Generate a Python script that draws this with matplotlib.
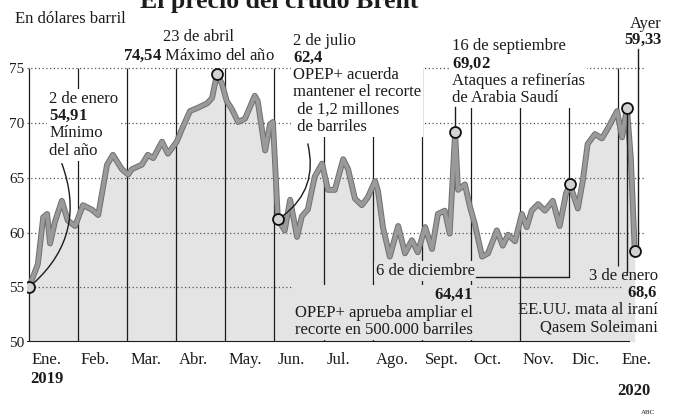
import numpy as np
import matplotlib.pyplot as plt
import matplotlib.patheffects as pe

plt.rcParams['font.family'] = ['Liberation Serif', 'DejaVu Serif']
plt.rcParams['mathtext.fontset'] = 'custom'
plt.rcParams['mathtext.rm'] = 'Liberation Serif'
plt.rcParams['mathtext.bf'] = 'Liberation Serif:bold'

# months since 1 Jan 2019 / Brent price ($ per barrel)
t = [0.00, 0.18, 0.29, 0.37, 0.43, 0.53, 0.67, 0.79, 0.94, 1.10, 1.28, 1.41,
     1.59, 1.71, 1.89, 2.02, 2.10, 2.30, 2.42, 2.53, 2.71, 2.83, 3.01, 3.12,
     3.28, 3.44, 3.63, 3.73, 3.83, 3.93, 4.03, 4.13, 4.26, 4.40, 4.60, 4.66,
     4.81, 4.91, 4.97, 5.03, 5.07, 5.21, 5.32, 5.46, 5.56, 5.68, 5.82, 5.97,
     6.09, 6.23, 6.40, 6.50, 6.64, 6.78, 6.90, 7.05, 7.11, 7.21, 7.35, 7.52,
     7.66, 7.80, 7.92, 8.07, 8.21, 8.33, 8.47, 8.57, 8.68, 8.74, 8.88, 8.98,
     9.08, 9.23, 9.35, 9.53, 9.65, 9.76, 9.90, 10.04, 10.14, 10.24, 10.37, 10.51,
     10.67, 10.81, 10.94, 11.02, 11.18, 11.28, 11.38, 11.53, 11.67, 11.79, 11.98, 12.08,
     12.18, 12.26, 12.34]
brent = [55.0, 57.1, 61.4, 61.7, 59.0, 61.0, 62.9, 61.1, 60.6, 62.5, 62.1, 61.6,
         66.2, 67.1, 65.8, 65.3, 65.8, 66.2, 67.1, 66.8, 68.3, 67.2, 68.3, 69.5,
         71.1, 71.4, 71.8, 72.3, 74.5, 73.6, 72.0, 71.3, 70.1, 70.4, 72.5, 72.0,
         67.5, 69.9, 70.1, 64.8, 61.2, 60.2, 63.0, 59.6, 61.5, 62.1, 65.1, 66.3,
         63.9, 63.9, 66.7, 65.8, 63.1, 62.5, 63.2, 64.7, 63.8, 60.5, 57.8, 60.6,
         58.1, 59.3, 58.2, 60.5, 58.5, 61.7, 62.0, 59.9, 69.2, 63.9, 64.4, 62.4,
         60.8, 57.8, 58.1, 60.2, 58.8, 59.8, 59.2, 61.7, 60.5, 62.0, 62.6, 62.0,
         62.9, 60.6, 63.6, 64.4, 62.2, 64.7, 68.1, 69.0, 68.6, 69.5, 71.1, 68.7,
         71.4, 66.8, 58.3]

months = ['Ene.', 'Feb.', 'Mar.', 'Abr.', 'May.', 'Jun.', 'Jul.', 'Ago.',
          'Sept.', 'Oct.', 'Nov.', 'Dic.', 'Ene.']
levels = [50, 55, 60, 65, 70, 75]
# circled points on the line
marked_t = [0.00, 3.83, 5.07, 8.68, 11.02, 12.18, 12.34]
marked_v = np.interp(marked_t, t, brent)

ink = '#1c1c1c'
fill_c = '#e4e4e4'
fig = plt.figure(figsize=(6.75, 4.18), dpi=100)
ax = fig.add_axes([27/675, 1 - 342/418, 623/675, 301/418])
ax.set_xlim(-0.04, 12.65)
ax.set_ylim(50, 77.5)
for s in ax.spines.values():
    s.set_visible(False)
ax.set_xticks([])
ax.set_yticks(levels)
ax.set_yticklabels([str(v) for v in levels])
ax.tick_params(axis='y', length=0, pad=2, labelsize=11, labelcolor=ink)

# background pieces
ax.fill_between(t, brent, 50, color=fill_c, lw=0, zorder=0.5)
dots = dict(colors='#555555', linestyles=(0, (1, 2)), lw=0.9, zorder=1)
ax.hlines(levels[2:], -0.04, 12.55, **dots)
ax.hlines(55, -0.04, 12.1, **dots)   # stops short of the "68,6" label
ax.vlines(range(11), 50, 75, colors=ink, lw=0.9, zorder=1)
ax.vlines(11, 55.95, 75, colors=ink, lw=0.9, zorder=1)   # doubles as the 6 dic. leader
ax.vlines(12, 56.9, 75, colors=ink, lw=0.9, zorder=1)
ax.plot([-0.04, 12.24], [50, 50], color=ink, lw=1.5, zorder=1.2, solid_capstyle='butt')

# price line
ax.plot(t, brent, color='#9a9a9a', lw=2.8, zorder=3, solid_joinstyle='round',
        path_effects=[pe.Stroke(linewidth=4.2, foreground='#6f6f6f'), pe.Normal()])

# leader lines
arc = dict(arrowstyle='-', color=ink, lw=1.0, shrinkA=0, shrinkB=5)
ax.annotate('', xy=(marked_t[0], marked_v[0]), xytext=(0.67, 66.3),
            arrowprops=dict(arc, connectionstyle='arc3,rad=-0.35'), zorder=4)
ax.annotate('', xy=(marked_t[2], marked_v[2]), xytext=(5.68, 68.1),
            arrowprops=dict(arc, connectionstyle='arc3,rad=-0.35'), zorder=4)
ax.plot([marked_t[3]] * 2, [marked_v[3], 71.5], color=ink, lw=1.0, zorder=4)
ax.plot([9.1, 11.0], [55.95, 55.95], color=ink, lw=1.0, zorder=4)
ax.plot([marked_t[5]] * 2, [56.4, marked_v[5]], color=ink, lw=1.0, zorder=4)
ax.plot([marked_t[6] + 0.06] * 2, [marked_v[6] + 0.4, 76.8], color=ink, lw=1.0, zorder=4)

ax.scatter(marked_t, marked_v, s=62, facecolor='#d2d2d2', edgecolor='#111111', lw=1.3, zorder=5)

# annotation blocks
white = dict(facecolor='white', edgecolor='none', pad=1.5)
grey = dict(facecolor=fill_c, edgecolor='none', pad=1.5)
fs = 12
ax.text(3.46, 77.0, '23 de abril\n$\\mathbf{74{,}54}$ Máximo del año', ha='center', va='center',
        multialignment='center', fontsize=fs, color=ink, bbox=white, zorder=2, clip_on=False)
ax.text(0.41, 69.85, '2 de enero\n$\\mathbf{54{,}91}$\nMínimo\ndel año', ha='left', va='center',
        fontsize=fs, color=ink, bbox=white, zorder=2, linespacing=1.1)
ax.text(5.38, 73.6, '2 de julio\n$\\mathbf{62{,}4}$\nOPEP+ acuerda\nmantener el recorte\n de 1,2 millones\n de barriles',
        ha='left', va='center', fontsize=fs, color=ink, bbox=white, zorder=2, linespacing=1.1, clip_on=False)
ax.text(8.62, 74.65, '16 de septiembre\n$\\mathbf{69{,}02}$\nAtaques a refinerías\nde Arabia Saudí',
        ha='left', va='center', fontsize=fs, color=ink, bbox=white, zorder=2, linespacing=1.1, clip_on=False)
ax.text(12.89, 78.3, 'Ayer\n$\\mathbf{59{,}33}$', ha='right', va='center', multialignment='right',
        fontsize=fs, color=ink, zorder=2, linespacing=1.0, clip_on=False)
ax.text(9.08, 56.5, '6 de diciembre', ha='right', va='center', fontsize=fs, color=ink,
        bbox=grey, zorder=2)
ax.text(9.04, 52.7, '$\\mathbf{64{,}41}$\nOPEP+ aprueba ampliar el\nrecorte en 500.000 barriles',
        ha='right', va='center', multialignment='right', fontsize=fs, color=ink,
        bbox=grey, zorder=2, linespacing=1.12)
ax.text(12.81, 53.7, '3 de enero\n$\\mathbf{68{,}6}$\nEE.UU. mata al iraní\nQasem Soleimani',
        ha='right', va='center', multialignment='right', fontsize=fs, color=ink,
        zorder=2, linespacing=1.08, clip_on=False)

# month labels under the baseline
for i, name in enumerate(months):
    ax.text(i + 0.06, 48.4, name, ha='left', va='center', fontsize=12, color=ink, clip_on=False)
ax.text(0.02, 46.6, '2019', ha='left', va='center', fontsize=12, fontweight='bold', color=ink, clip_on=False)
ax.text(12.65, 45.5, '2020', ha='right', va='center', fontsize=12, fontweight='bold', color=ink, clip_on=False)

# header bits
fig.text(418/675, 1 - 8/418, 'El precio del crudo Brent', ha='right', va='baseline',
         fontsize=18.5, fontweight='bold', color=ink)
fig.text(15/675, 1 - 19/418, 'En dólares barril', ha='left', va='center', fontsize=12, color=ink)
fig.text(655/675, 1 - 412/418, 'ABC', ha='right', va='center', fontsize=5, color=ink)

fig.savefig('out.png', dpi=100, facecolor='white')
